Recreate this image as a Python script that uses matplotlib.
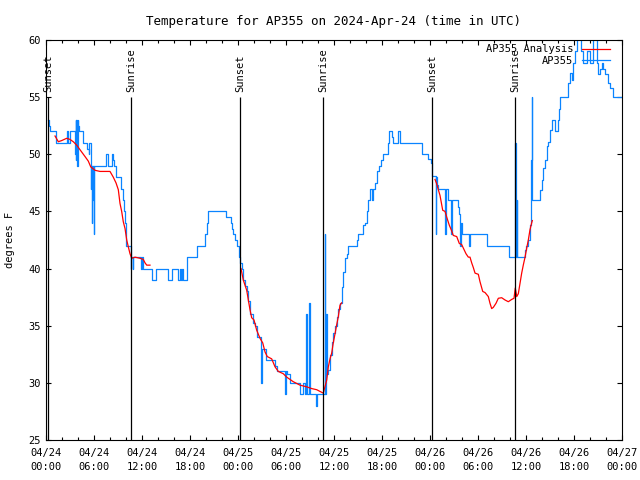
import numpy as np
import pandas as pd
import matplotlib
matplotlib.use("Agg")
import matplotlib.pyplot as plt
import matplotlib.dates as mdates

# hours since 2024-04-24 00:00 UTC
obs_hours = [0.29, 0.38, 0.5, 1.19, 2.63, 2.81, 3.0, 3.63, 3.69, 3.75, 3.81, 3.88, 3.94, 4.0, 4.06,
             4.16, 4.63, 5.16, 5.34, 5.41, 5.59, 5.65, 5.71, 5.78, 5.84, 5.9, 5.96, 6.04, 7.5, 7.69,
             8.19, 8.41, 8.5, 8.69, 9.34, 9.59, 9.75, 9.88, 10.0, 10.59, 10.66, 10.84, 10.91, 11.88,
             11.96, 12.16, 13.25, 13.71, 15.21, 15.71, 16.54, 16.71, 16.88, 17.0, 17.13, 17.66, 18.84,
             19.88, 20.09, 20.29, 22.5, 23.09, 23.21, 23.41, 23.63, 23.84, 24.13, 24.25, 24.44, 24.66,
             24.88, 25.09, 25.29, 25.5, 25.91, 26.13, 26.34, 26.91, 26.96, 27.5, 28.63, 28.84, 29.88,
             29.96, 30.09, 30.5, 31.75, 32.16, 32.38, 32.56, 32.63, 32.88, 32.94, 33.71, 33.84, 34.84,
             34.91, 35.04, 35.09, 35.29, 35.5, 35.71, 35.91, 36.13, 36.34, 36.54, 36.75, 36.96, 37.16,
             37.38, 37.59, 37.79, 38.84, 39.04, 39.59, 39.88, 40.09, 40.29, 40.5, 40.71, 40.91, 41.13,
             41.34, 41.66, 41.88, 42.09, 42.79, 42.91, 43.21, 43.41, 44.0, 44.21, 46.96, 47.79, 48.13,
             48.29, 48.69, 48.75, 48.91, 49.04, 49.88, 49.94, 50.29, 50.66, 50.75, 51.54, 51.66, 51.75,
             51.84, 51.96, 52.91, 52.98, 55.09, 57.91, 58.63, 58.69, 58.84, 58.9, 59.88, 60.0, 60.29,
             60.5, 60.63, 60.71, 60.79, 61.75, 61.96, 62.16, 62.38, 62.59, 62.79, 63.0, 63.21, 63.63,
             63.96, 64.16, 64.25, 65.29, 65.5, 65.71, 65.91, 66.13, 66.34, 66.88, 67.16, 67.59, 68.0,
             68.38, 68.84, 69.04, 69.25, 69.46, 69.66, 69.88, 70.21, 70.29, 70.5, 70.84, 71.88]
obs_temp = [53, 52.5, 52, 51, 52, 51, 52, 50, 53, 49.5, 53, 49, 53, 50.5, 52.5,
            52, 51, 50.5, 50, 51, 47, 49, 44, 49, 46, 49, 43, 49, 50, 49,
            50, 49.5, 49, 48, 47, 46, 45, 44, 42, 40, 41, 40, 41, 40,
            41, 40, 39, 40, 39, 40, 39, 40, 39, 40, 39, 41, 42,
            43, 44, 45, 44.5, 44, 43.5, 43, 42.5, 42, 41, 40.5, 40, 39,
            38.5, 38, 37.2, 36, 35.2, 35, 34, 30, 33, 32, 31.5, 31, 29,
            31, 30.8, 30, 29, 30, 29, 36, 29, 37, 29, 28, 29, 43,
            29, 36, 30.8, 31.1, 32.4, 33.6, 34.4, 35, 35.8, 36.5, 37, 38.4, 39.7,
            40.9, 41.3, 42, 42.5, 43, 43.8, 44, 45, 46, 47, 46, 47, 47.5,
            48.5, 49, 49.5, 50, 51, 52, 51.5, 51, 52, 51, 50, 49.6, 49.2,
            48.1, 43, 48, 47.3, 47, 43, 47, 46, 43, 46, 45.4, 44.8, 42,
            44, 43, 42, 43, 42, 41, 51, 41, 46, 41, 41.6, 42, 42.5,
            43.8, 49.5, 55, 46, 46.9, 47.75, 48.8, 49.5, 50.7, 51.1, 52.1, 53, 52,
            53, 54, 55, 56.2, 57.1, 56.5, 58, 59, 61, 59, 58, 59, 58,
            61, 58, 57, 57.5, 58, 57.5, 57, 56.5, 56.2, 55.8, 55, 55]

# analysis series, nan = gap
ana_hours = [1.13, 1.54, 1.96, 2.59, 3.0, 3.41, 3.84, 4.25, 4.88, 5.29, 5.59, 6.13, 6.75, 8.0, 8.41,
             8.75, 9.04, 9.25, 9.46, 9.66, 9.88, 10.09, 10.29, 10.5, 10.71, 11.13, 11.75, 12.16, 12.38,
             12.59, 13.0, 18.0,
             24.38, 24.66, 25.09, 25.29, 25.5, 25.71, 26.0, 26.34, 26.75, 27.09, 27.38, 27.66, 28.21,
             28.63, 29.04, 29.66, 30.09, 30.5, 30.91, 31.75, 32.59, 33.21, 33.84, 34.66, 35.09, 35.29,
             35.5, 35.71, 35.91, 36.13, 36.34, 36.54, 36.75, 36.96, 42.0,
             48.63, 48.84, 49.04, 49.25, 49.59, 49.88, 50.09, 50.41, 50.71, 50.91, 51.34, 51.66, 51.96,
             52.16, 52.5, 52.79, 53.0, 53.21, 53.41, 53.63, 54.04, 54.25, 54.59, 54.88, 55.29, 55.5,
             55.71, 55.91, 56.25, 56.54, 56.96, 57.38, 57.79, 58.21, 58.5, 58.66, 58.84, 59.04, 59.25,
             59.46, 59.66, 59.88, 60.09, 60.29, 60.5, 60.71, 60.79]
ana_temp = [51.6, 51.1, 51.2, 51.4, 51.3, 51.1, 50.8, 50.4, 49.8, 49.4, 48.9, 48.6, 48.5, 48.5, 48.0,
            47.5, 46.9, 45.7, 45.0, 44.1, 43.5, 42.5, 41.9, 41.3, 40.9, 41.0, 40.9, 40.8, 40.5,
            40.3, 40.3, np.nan,
            40.0, 39.0, 38.1, 37.25, 36.4, 35.7, 35.5, 34.6, 33.9, 33.5, 32.7, 32.3, 32.1,
            31.4, 31.0, 30.8, 30.5, 30.3, 30.1, 29.8, 29.65, 29.5, 29.4, 29.1, 30.25, 31.4,
            32.1, 32.6, 33.5, 34.3, 35.1, 35.8, 36.8, 37.0, np.nan,
            47.8, 47.4, 46.9, 46.4, 45.1, 45.0, 44.5, 43.8, 43.3, 42.9, 42.8, 42.2, 42.1,
            41.8, 41.3, 41.0, 41.0, 40.5, 40.1, 39.6, 39.5, 38.85, 38.0, 37.9, 37.55, 36.96,
            36.5, 36.6, 36.96, 37.4, 37.45, 37.25, 37.1, 37.3, 37.4, 38.3, 37.55, 37.8, 38.7,
            39.6, 40.3, 41.0, 41.8, 42.5, 43.4, 44.0, 44.2]

sun_hours = [0.25, 10.6, 24.25, 34.6, 48.25, 58.6]
sun_labels = ["Sunset", "Sunrise", "Sunset", "Sunrise", "Sunset", "Sunrise"]

start = pd.Timestamp("2024-04-24 00:00")
to_time = lambda h: start + pd.to_timedelta(np.asarray(h, dtype=float), unit="h")

plt.rcParams["font.family"] = ["DejaVu Sans Mono"]
plt.rcParams["font.size"] = 7.5

fig = plt.figure(figsize=(6.4, 4.8), dpi=100)
ax = fig.add_axes([46 / 640, 40 / 480, 576 / 640, 400 / 480])

blue = "#0a84ff"
ax.plot(to_time(ana_hours), ana_temp, color="red", lw=0.9, label="AP355 Analysis", zorder=3)
ax.plot(to_time(obs_hours), obs_temp, color=blue, lw=0.9, drawstyle="steps-post", label="AP355", zorder=2)

# sunrise / sunset markers
ax.vlines(to_time(sun_hours), 25, 55, color="black", lw=0.9, zorder=4)
for t, lab in zip(to_time(sun_hours), sun_labels):
    ax.text(t, 55.45, lab, rotation=90, ha="center", va="bottom")

ax.set_xlim(start, start + pd.Timedelta(hours=72))
ax.set_ylim(25, 60)
ax.set_yticks(np.arange(25, 61, 5))
ax.xaxis.set_major_locator(mdates.HourLocator(byhour=[0, 6, 12, 18]))
ax.xaxis.set_minor_locator(mdates.HourLocator(byhour=range(0, 24, 2)))
ax.xaxis.set_major_formatter(mdates.DateFormatter("%m/%d\n%H:%M"))
ax.tick_params(which="both", direction="in", top=True, right=True, width=0.8)
ax.tick_params(which="major", length=3.6)
ax.tick_params(which="minor", length=2)
ax.tick_params(axis="x", pad=6)
ax.tick_params(axis="y", pad=4)
for s in ax.spines.values():
    s.set_linewidth(0.8)

ax.set_ylabel("degrees F")
ax.yaxis.set_label_coords(-0.054, 0.5)
ax.set_title("Temperature for AP355 on 2024-Apr-24 (time in UTC)", pad=11)

ax.legend(loc="upper right", bbox_to_anchor=(0.986, 1.0), borderaxespad=0, frameon=False,
          markerfirst=False, handlelength=2.7, handletextpad=0.8, labelspacing=0.15)

fig.canvas.draw()
for lbl in ax.get_xticklabels():
    lbl.set_linespacing(1.45)

fig.savefig("out.png", dpi=100)
